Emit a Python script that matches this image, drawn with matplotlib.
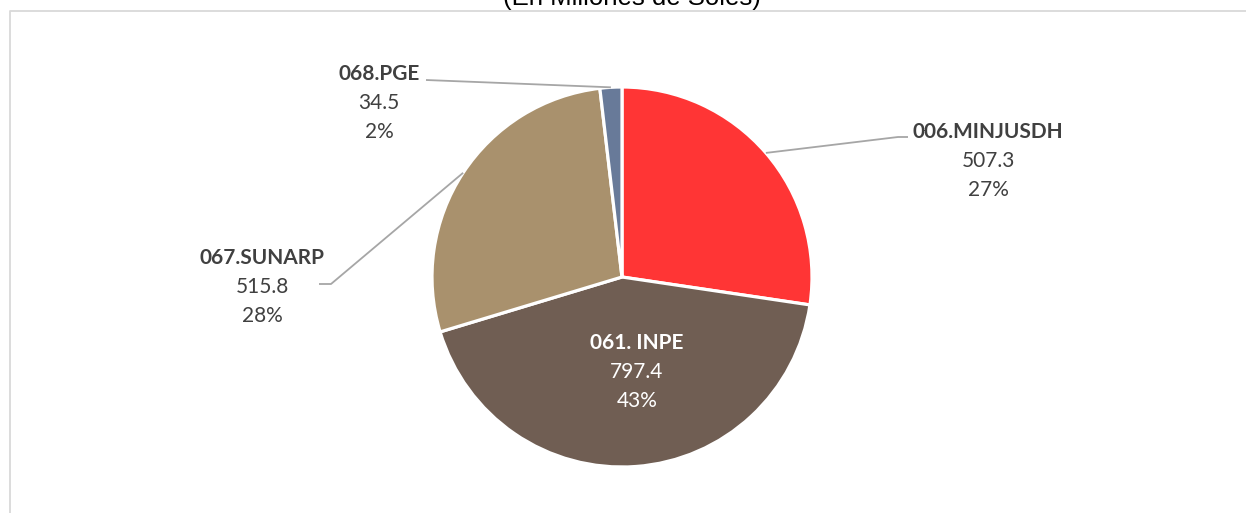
import numpy as np
import matplotlib
matplotlib.use("Agg")
import matplotlib.pyplot as plt
from matplotlib.lines import Line2D

# ---- data ----
categories = ["006.MINJUSDH", "061. INPE", "067.SUNARP", "068.PGE"]
values = [507.3, 797.4, 515.8, 34.5]
colors = ["#FF3535", "#705E53", "#A9916D", "#687A99"]
title = "(En Millones de Soles)"

W, H = 1246, 513
fig = plt.figure(figsize=(W / 100, H / 100), dpi=100)
ax = fig.add_axes([0, 0, 1, 1])

def Y(y):
    return H - y

cx, cy, R = 622, Y(277), 190
wedges, _ = ax.pie(values, colors=colors, startangle=90, counterclock=False,
                   center=(cx, cy), radius=R,
                   wedgeprops=dict(edgecolor="white", linewidth=2.3))
ax.set_xlim(0, W)
ax.set_ylim(0, H)
ax.set_aspect("equal")
ax.axis("off")

total = sum(values)
pcts = [f"{round(v / total * 100):.0f}%" for v in values]

FONT = "Lato"
TXT = "#404040"
LEAD = "#A6A6A6"
FS = 15

# label layout (image pixel coords): center x, first line y, text color, leader path after edge point
layout = {
    "006.MINJUSDH": dict(x=988, y=132, color=TXT, path=[(898, 137), (908, 137)]),
    "061. INPE": dict(x=637, y=343, color="white", path=None),
    "067.SUNARP": dict(x=262, y=258, color=TXT, path=[(331, 284), (319, 284)]),
    "068.PGE": dict(x=379, y=74, color=TXT, path=[(426, 80)]),
}
dy = 29

for w, cat, v, p in zip(wedges, categories, values, pcts):
    L = layout[cat]
    ax.text(L["x"], Y(L["y"]), cat, ha="center", va="center", fontsize=FS,
            fontweight="bold", color=L["color"], family=FONT)
    ax.text(L["x"], Y(L["y"] + dy), f"{v:.1f}", ha="center", va="center",
            fontsize=FS, color=L["color"], family=FONT)
    ax.text(L["x"], Y(L["y"] + 2 * dy), p, ha="center", va="center",
            fontsize=FS, color=L["color"], family=FONT)
    if L["path"]:
        mid = np.deg2rad((w.theta1 + w.theta2) / 2)
        ex, ey = cx + R * np.cos(mid), cy + R * np.sin(mid)
        xs = [ex] + [q[0] for q in L["path"]]
        ys = [ey] + [Y(q[1]) for q in L["path"]]
        ax.plot(xs, ys, color=LEAD, lw=1.3, solid_capstyle="butt", zorder=1)

# title (partly cut off at top, as in the original)
fig.text(632 / W, (H - 5) / H, title, ha="center", va="baseline",
         fontsize=18.5, color="#000000", family="Liberation Sans")

# chart frame (only left and top edges visible)
fig.add_artist(Line2D([9.5 / W, 9.5 / W, 1.0], [0, (H - 10.5) / H, (H - 10.5) / H],
                      transform=fig.transFigure, color="#D9D9D9", lw=1.3))

fig.savefig("out.png", dpi=100)
